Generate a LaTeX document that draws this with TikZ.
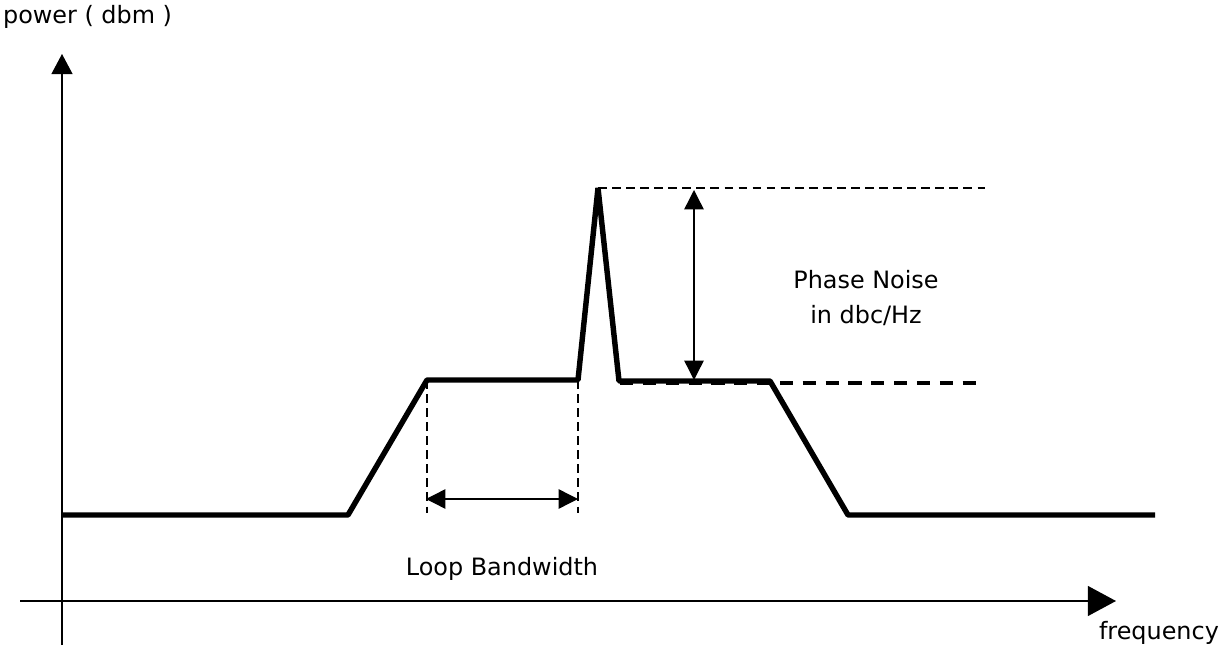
\documentclass[tikz,border=0pt]{standalone}
\usepackage{fontspec}
\setmainfont{DejaVu Sans}
\usetikzlibrary{arrows.meta,positioning}
\tikzset{xaxis/.style={line width=0.9pt,-{Triangle[length=16pt,width=17pt]}},
yaxis/.style={line width=0.9pt,-{Triangle[length=11.5pt,width=12pt]}},
curve/.style={line width=3.1pt,line join=bevel},
guide/.style={dash pattern=on 5pt off 3pt,line width=0.7pt},
measure/.style={line width=0.8pt,{Triangle[length=11pt,width=11pt]}-{Triangle[length=11pt,width=11pt]}},
label/.style={font=\fontsize{13.6}{19.8}\selectfont,align=center,inner sep=1pt}
}

\begin{document}
\begin{tikzpicture}[x=0.02cm,y=-0.02cm]
    \useasboundingbox (0,0) rectangle (1221,658);
    % axes
    \coordinate (y_0) at (62,645);
    \coordinate (y_1) at (62,54);
    \coordinate (x_0) at (20,601);
    \coordinate (x_1) at (1116,601);
    \draw[yaxis] (y_0) -- (y_1);
    \draw[xaxis] (x_0) -- (x_1);
    \node[label,anchor=west] (power) at (1,17) {power ( dbm )};
    \node[label,anchor=east] (freq)  at (1221,633) {frequency};

    % spectrum
    \coordinate (s_0) at (62,515);
    \coordinate (s_1) at (348,515);
    \coordinate (s_2) at (427,380);
    \coordinate (s_3) at (578,380);
    \coordinate (s_4) at (598,188);
    \coordinate (s_5) at (619,381);
    \coordinate (s_6) at (770,381);
    \coordinate (s_7) at (848,515);
    \coordinate (s_8) at (1155,515);
    \draw[curve] (s_0) -- (s_1) -- (s_2) -- (s_3) -- (s_4) -- (s_5) -- (s_6) -- (s_7) -- (s_8);

    % guides
    \coordinate (top_r) at (985,188);
    \coordinate (flat_l) at (620,383);
    \coordinate (flat_r) at (985,383);
    \coordinate (bw_l) at (427,513);
    \coordinate (bw_r) at (578,513);
    \draw[guide] (s_4) -- (top_r);
    \draw[guide,line width=2.2pt,dash pattern=on 7.5pt off 5.5pt] (flat_l) -- (flat_r);
    \draw[guide] (s_2) -- (bw_l);
    \draw[guide] (s_3) -- (bw_r);

    % measures
    \coordinate (pn_t) at (694,190);
    \coordinate (pn_b) at (694,380);
    \coordinate (lb_l) at (426,499);
    \coordinate (lb_r) at (578,499);
    \draw[measure] (pn_t) -- (pn_b);
    \draw[measure] (lb_l) -- (lb_r);
    \node[label] (pn) at (866,298) {Phase Noise\\in dbc/Hz};
    \node[label] (lb) at (502,569) {Loop Bandwidth};
\end{tikzpicture}
\end{document}
